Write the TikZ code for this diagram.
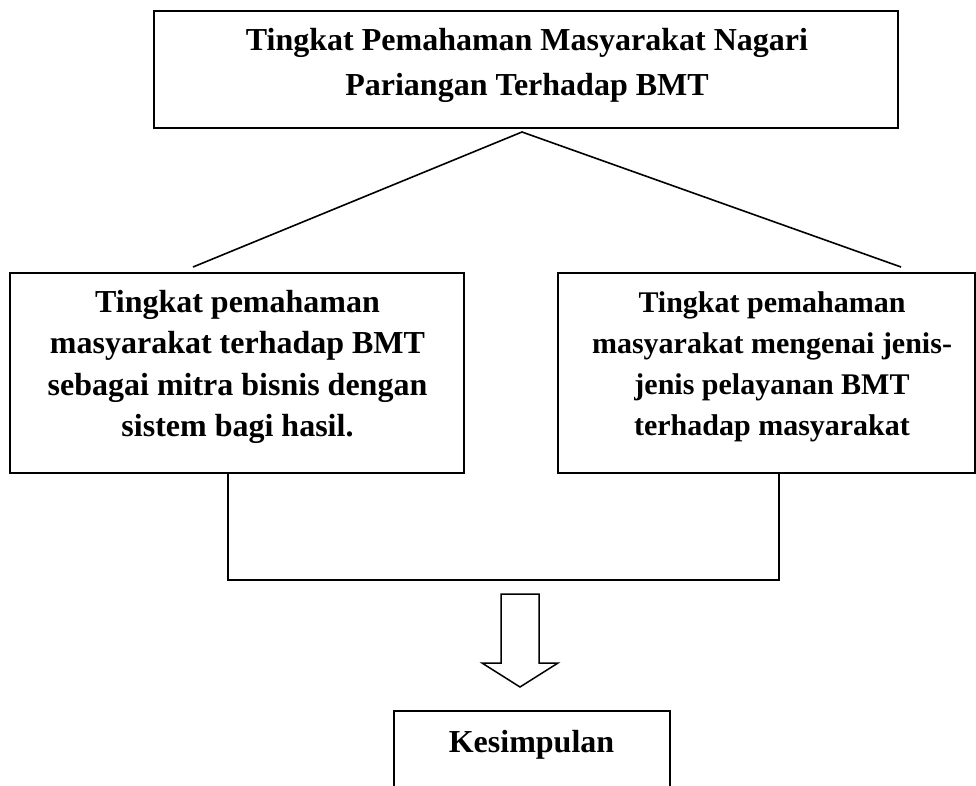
\documentclass[tikz,border=0pt]{standalone}
\usepackage{fontspec}
\setmainfont{Liberation Serif}
\begin{document}
\begin{tikzpicture}[x=1pt,y=-1pt,
  box/.style={draw, line width=1.6pt, inner sep=0pt, outer sep=0pt, anchor=north west},
  conn/.style={draw, line width=1.6pt},
  bigtxt/.style={font=\fontsize{32}{40}\selectfont\bfseries, inner sep=0pt, anchor=base},
  midtxt/.style={font=\fontsize{30}{38}\selectfont\bfseries, inner sep=0pt, anchor=base}]
\useasboundingbox[fill=white] (0,0) rectangle (976,785);

% top box
\node[box, minimum width=744pt, minimum height=117pt] (top) at (154,11) {};
\node[bigtxt] (t1) at (527,50) {Tingkat Pemahaman Masyarakat Nagari};
\node[bigtxt] (t2) at (527,95) {Pariangan Terhadap BMT};

% left box
\node[box, minimum width=454pt, minimum height=200pt] (L) at (10,273) {};
\node[bigtxt] (l1) at (237.5,312) {Tingkat pemahaman};
\node[bigtxt] (l2) at (237.5,353.5) {masyarakat terhadap BMT};
\node[bigtxt] (l3) at (237.5,395) {sebagai mitra bisnis dengan};
\node[bigtxt] (l4) at (237.5,436.5) {sistem bagi hasil.};

% right box
\node[box, minimum width=417pt, minimum height=200pt] (R) at (558,273) {};
\node[midtxt] (r1) at (772,312) {Tingkat pemahaman};
\node[midtxt] (r2) at (772,353) {masyarakat mengenai jenis-};
\node[midtxt] (r3) at (772,394) {jenis pelayanan BMT};
\node[midtxt] (r4) at (772,435) {terhadap masyarakat};

% branching lines
\coordinate (apex) at (522,132);
\coordinate (lend) at (193,267);
\coordinate (rend) at (901,267);
\draw[conn] (lend) -- (apex) -- (rend);

% bracket joining the two boxes
\coordinate (bl) at (228,580);
\coordinate (br) at (779,580);
\draw[conn] (L.south -| bl) -- (bl) -- (br) -- (R.south -| br);

% hollow arrow
\draw[line width=1.5pt, line join=miter] (501,594) -- (539,594) -- (539,663) -- (558,663)
  -- (520,687) -- (482,663) -- (501,663) -- cycle;

% conclusion box (open at the bottom edge)
\draw[conn] (394,786) -- (394,711) -- (670,711) -- (670,786);
\node[bigtxt] (k) at (531.5,752) {Kesimpulan};
\end{tikzpicture}
\end{document}
